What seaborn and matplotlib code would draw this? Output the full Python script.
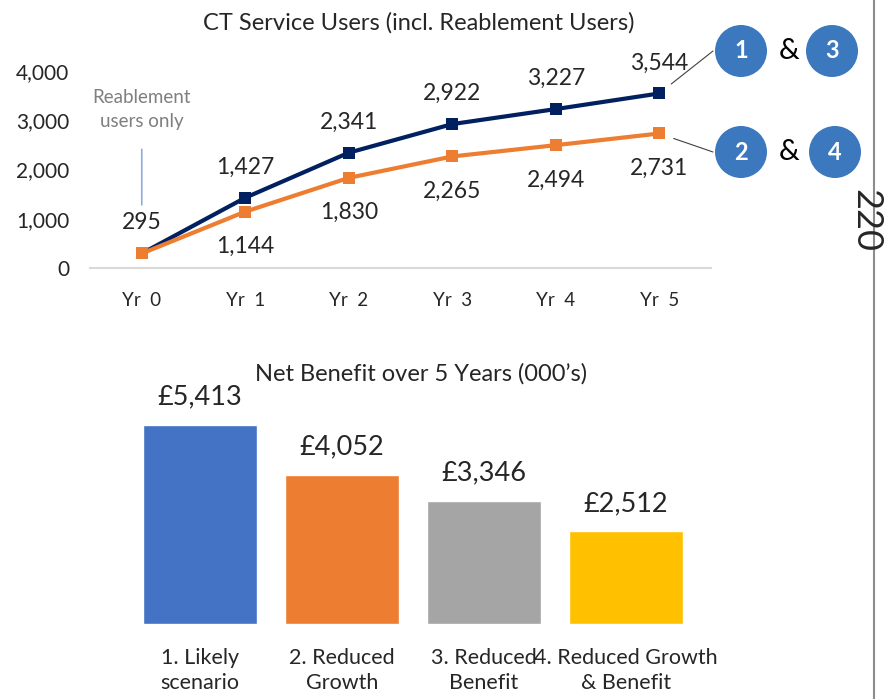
import matplotlib.pyplot as plt
import pandas as pd
import seaborn as sns
from matplotlib.lines import Line2D
from matplotlib.patches import Circle

years = ["Yr  0", "Yr  1", "Yr  2", "Yr  3", "Yr  4", "Yr  5"]
users_1_3 = [295, 1427, 2341, 2922, 3227, 3544]
users_2_4 = [295, 1144, 1830, 2265, 2494, 2731]

scenarios = ["1. Likely\nscenario", "2. Reduced\nGrowth", "3. Reduced\nBenefit", "4. Reduced Growth\n& Benefit"]
net_benefit = [5413, 4052, 3346, 2512]

NAVY = "#002060"
ORANGE = "#ED7D31"
BAR_COLORS = ["#4472C4", "#ED7D31", "#A5A5A5", "#FFC000"]
BUBBLE = "#3C78BE"

sns.set_theme(style="white")
plt.rcParams["font.family"] = ["Lato", "DejaVu Sans"]

W, H = 884, 699
fig = plt.figure(figsize=(W / 100, H / 100), dpi=100)


def fx(px):
    return px / W


def fy(py):
    return 1 - py / H


# ---- top: line chart ----
ax1 = fig.add_axes([fx(90), fy(268), fx(711) - fx(90), fy(71) - fy(268)])
df = pd.DataFrame({
    "year": years * 2,
    "users": users_1_3 + users_2_4,
    "series": ["1 & 3"] * len(years) + ["2 & 4"] * len(years),
})
sns.lineplot(data=df, x="year", y="users", hue="series", palette=[NAVY, ORANGE],
             marker="s", markersize=8, markeredgewidth=0, linewidth=3, ax=ax1,
             legend=False)
ax1.set_xlim(-0.5, 5.5)
ax1.set_ylim(0, 4000)
ax1.set_yticks([0, 1000, 2000, 3000, 4000])
ax1.set_yticklabels([f"{v:,}" for v in [0, 1000, 2000, 3000, 4000]], fontsize=15)
ax1.set_xticks(range(len(years)))
ax1.set_xticklabels(years, fontsize=13.5)
ax1.tick_params(axis="x", length=0, pad=17)
ax1.tick_params(axis="y", length=0, pad=15)
ax1.set_xlabel("")
ax1.set_ylabel("")
for s in ["top", "right", "left"]:
    ax1.spines[s].set_visible(False)
ax1.spines["bottom"].set_color("#D9D9D9")
ax1.spines["bottom"].set_linewidth(1.5)
ax1.set_title("CT Service Users (incl. Reablement Users)", fontsize=17, pad=30, x=0.53)

for i, v in enumerate(users_1_3):
    ax1.annotate(f"{v:,}", (i, v), xytext=(0, 22), textcoords="offset points",
                 ha="center", va="center", fontsize=16.5, annotation_clip=False)
for i, v in enumerate(users_2_4[1:], start=1):
    ax1.annotate(f"{v:,}", (i, v), xytext=(0, -25), textcoords="offset points",
                 ha="center", va="center", fontsize=16.5, annotation_clip=False)

ax1.annotate("Reablement\nusers only", (0, users_1_3[0]), xytext=(0, 104),
             textcoords="offset points", ha="center", va="center",
             fontsize=13.5, color="#7F7F7F", linespacing=1.5, annotation_clip=False)
ax1.annotate("", (0, users_1_3[0]), xytext=(0, 75), textcoords="offset points",
             arrowprops=dict(arrowstyle="-", color="#8FAADC", lw=1.2,
                             shrinkA=0, shrinkB=35))

# connectors to scenario bubbles
ax1.annotate("", (5, users_1_3[-1]), xytext=(fx(713), fy(51)), textcoords="figure fraction",
             arrowprops=dict(arrowstyle="-", color="#404040", lw=0.8, shrinkA=0, shrinkB=11))
ax1.annotate("", (5, users_2_4[-1]), xytext=(fx(713), fy(152)), textcoords="figure fraction",
             arrowprops=dict(arrowstyle="-", color="#404040", lw=0.8, shrinkA=0, shrinkB=11))

for (cx, cy, label) in [(741, 51, "1"), (832, 51, "3"), (741, 152, "2"), (835, 152, "4")]:
    fig.add_artist(Circle((cx / 100, (H - cy) / 100), 0.26, transform=fig.dpi_scale_trans,
                          color=BUBBLE, lw=0))
    fig.text(fx(cx), fy(cy), label, ha="center", va="center", color="white",
             fontsize=17, fontweight="bold")
for cy in [51, 152]:
    fig.text(fx(789), fy(cy), "&", ha="center", va="center", fontsize=21, color="black")

# right-hand page edge and page number
fig.add_artist(Line2D([fx(874), fx(874)], [0, 1], color="#8C8C8C", lw=1.5))
fig.text(fx(866), fy(220), "220", rotation=270, ha="center", va="center", fontsize=26)

# ---- bottom: bar chart ----
ax2 = fig.add_axes([fx(129), fy(624), fx(697) - fx(129), fy(403) - fy(624)])
bdf = pd.DataFrame({"scenario": scenarios, "benefit": net_benefit})
sns.barplot(data=bdf, x="scenario", y="benefit", hue="scenario", palette=BAR_COLORS,
            width=0.8, saturation=1, legend=False, ax=ax2)
ax2.set_ylim(0, 6000)
ax2.set_xlim(-0.5, 3.5)
ax2.set_yticks([])
ax2.set_xlabel("")
ax2.set_ylabel("")
ax2.tick_params(axis="x", length=0, pad=17, labelsize=15.5)
for lbl in ax2.get_xticklabels():
    lbl.set_linespacing(1.35)
for s in ax2.spines.values():
    s.set_visible(False)
for i, v in enumerate(net_benefit):
    ax2.annotate(f"£{v:,}", (i, v), xytext=(0, 20), textcoords="offset points",
                 ha="center", va="center", fontsize=19.5, annotation_clip=False)
ax2.set_title("Net Benefit over 5 Years (000\u2019s)", fontsize=17, pad=16, x=0.515)

fig.savefig("out.png", dpi=100)
